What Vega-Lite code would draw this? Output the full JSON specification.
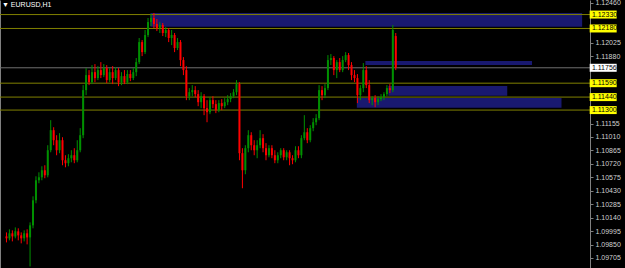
{
  "$schema": "https://vega.github.io/schema/vega-lite/v6.json",
  "width": 590,
  "height": 268,
  "autosize": {"type": "none"},
  "padding": {"left": 0, "top": 0, "right": 35, "bottom": 0},
  "background": "#000000",
  "config": {"view": {"stroke": null}, "font": "Liberation Sans"},
  "title": {"text": "▼ EURUSD,H1", "anchor": "start", "frame": "group", "orient": "top", "offset": -9, "fontSize": 7, "fontWeight": "normal", "color": "#ffffff", "font": "Liberation Sans", "dx": 2},
  "datasets": {
    "zones": [
      {"t1": 48.8, "t2": 195.2, "p1": 1.12347, "p2": 1.12199},
      {"t1": 121.7, "t2": 178.2, "p1": 1.11829, "p2": 1.11786},
      {"t1": 129.5, "t2": 169.8, "p1": 1.11560, "p2": 1.11455},
      {"t1": 118.8, "t2": 188.2, "p1": 1.11430, "p2": 1.11326}
    ],
    "levels": [
      {"p": 1.12330, "kind": "level"},
      {"p": 1.12180, "kind": "level"},
      {"p": 1.11590, "kind": "level"},
      {"p": 1.11440, "kind": "level"},
      {"p": 1.11300, "kind": "level"},
      {"p": 1.11756, "kind": "bid"}
    ],
    "candles": [
      {"t":0,"o":1.09938,"h":1.09981,"l":1.09873,"c":1.09917},
      {"t":1,"o":1.09917,"h":1.10014,"l":1.09895,"c":1.09971},
      {"t":2,"o":1.09971,"h":1.10003,"l":1.09884,"c":1.09938},
      {"t":3,"o":1.09938,"h":1.10035,"l":1.09917,"c":1.09992},
      {"t":4,"o":1.09992,"h":1.10025,"l":1.09895,"c":1.09949},
      {"t":5,"o":1.09949,"h":1.09981,"l":1.09863,"c":1.09917},
      {"t":6,"o":1.09917,"h":1.10003,"l":1.09884,"c":1.09971},
      {"t":7,"o":1.09971,"h":1.10014,"l":1.09852,"c":1.09927},
      {"t":8,"o":1.09927,"h":1.10089,"l":1.09614,"c":1.10057},
      {"t":9,"o":1.10057,"h":1.10370,"l":1.10025,"c":1.10327},
      {"t":10,"o":1.10327,"h":1.10586,"l":1.10295,"c":1.10543},
      {"t":11,"o":1.10543,"h":1.10629,"l":1.10511,"c":1.10575},
      {"t":12,"o":1.10575,"h":1.10694,"l":1.10543,"c":1.10651},
      {"t":13,"o":1.10651,"h":1.10705,"l":1.10565,"c":1.10597},
      {"t":14,"o":1.10597,"h":1.10921,"l":1.10575,"c":1.10867},
      {"t":15,"o":1.10867,"h":1.11191,"l":1.10845,"c":1.11083},
      {"t":16,"o":1.11083,"h":1.11115,"l":1.10921,"c":1.10975},
      {"t":17,"o":1.10975,"h":1.11029,"l":1.10813,"c":1.10867},
      {"t":18,"o":1.10867,"h":1.11051,"l":1.10835,"c":1.10975},
      {"t":19,"o":1.10975,"h":1.11007,"l":1.10705,"c":1.10759},
      {"t":20,"o":1.10759,"h":1.10813,"l":1.10683,"c":1.10727},
      {"t":21,"o":1.10727,"h":1.10824,"l":1.10694,"c":1.10781},
      {"t":22,"o":1.10781,"h":1.10867,"l":1.10737,"c":1.10813},
      {"t":23,"o":1.10813,"h":1.10889,"l":1.10727,"c":1.10759},
      {"t":24,"o":1.10759,"h":1.10975,"l":1.10737,"c":1.10867},
      {"t":25,"o":1.10867,"h":1.11105,"l":1.10845,"c":1.11029},
      {"t":26,"o":1.11029,"h":1.11569,"l":1.10997,"c":1.11515},
      {"t":27,"o":1.11515,"h":1.11753,"l":1.11461,"c":1.11677},
      {"t":28,"o":1.11677,"h":1.11731,"l":1.11569,"c":1.11601},
      {"t":29,"o":1.11601,"h":1.11785,"l":1.11580,"c":1.11709},
      {"t":30,"o":1.11709,"h":1.11796,"l":1.11601,"c":1.11645},
      {"t":31,"o":1.11645,"h":1.11774,"l":1.11623,"c":1.11731},
      {"t":32,"o":1.11731,"h":1.11817,"l":1.11645,"c":1.11677},
      {"t":33,"o":1.11677,"h":1.11796,"l":1.11655,"c":1.11753},
      {"t":34,"o":1.11753,"h":1.11785,"l":1.11591,"c":1.11623},
      {"t":35,"o":1.11623,"h":1.11753,"l":1.11601,"c":1.11709},
      {"t":36,"o":1.11709,"h":1.11774,"l":1.11580,"c":1.11645},
      {"t":37,"o":1.11645,"h":1.11763,"l":1.11623,"c":1.11731},
      {"t":38,"o":1.11731,"h":1.11753,"l":1.11558,"c":1.11601},
      {"t":39,"o":1.11601,"h":1.11709,"l":1.11569,"c":1.11666},
      {"t":40,"o":1.11666,"h":1.11731,"l":1.11580,"c":1.11601},
      {"t":41,"o":1.11601,"h":1.11731,"l":1.11580,"c":1.11688},
      {"t":42,"o":1.11688,"h":1.11731,"l":1.11612,"c":1.11645},
      {"t":43,"o":1.11645,"h":1.11753,"l":1.11623,"c":1.11709},
      {"t":44,"o":1.11709,"h":1.11861,"l":1.11666,"c":1.11817},
      {"t":45,"o":1.11817,"h":1.12077,"l":1.11796,"c":1.12033},
      {"t":46,"o":1.12033,"h":1.12055,"l":1.11882,"c":1.11925},
      {"t":47,"o":1.11925,"h":1.12163,"l":1.11904,"c":1.12109},
      {"t":48,"o":1.12109,"h":1.12293,"l":1.12087,"c":1.12249},
      {"t":49,"o":1.12249,"h":1.12336,"l":1.12206,"c":1.12293},
      {"t":50,"o":1.12293,"h":1.12347,"l":1.12185,"c":1.12228},
      {"t":51,"o":1.12228,"h":1.12282,"l":1.12152,"c":1.12185},
      {"t":52,"o":1.12185,"h":1.12249,"l":1.12131,"c":1.12217},
      {"t":53,"o":1.12217,"h":1.12239,"l":1.12098,"c":1.12131},
      {"t":54,"o":1.12131,"h":1.12195,"l":1.12087,"c":1.12163},
      {"t":55,"o":1.12163,"h":1.12185,"l":1.12033,"c":1.12077},
      {"t":56,"o":1.12077,"h":1.12163,"l":1.12001,"c":1.12109},
      {"t":57,"o":1.12109,"h":1.12131,"l":1.11925,"c":1.11969},
      {"t":58,"o":1.11969,"h":1.12077,"l":1.11947,"c":1.12033},
      {"t":59,"o":1.12033,"h":1.12055,"l":1.11774,"c":1.11839},
      {"t":60,"o":1.11839,"h":1.11871,"l":1.11677,"c":1.11731},
      {"t":61,"o":1.11731,"h":1.11774,"l":1.11407,"c":1.11450},
      {"t":62,"o":1.11450,"h":1.11537,"l":1.11407,"c":1.11493},
      {"t":63,"o":1.11493,"h":1.11569,"l":1.11450,"c":1.11515},
      {"t":64,"o":1.11515,"h":1.11558,"l":1.11439,"c":1.11472},
      {"t":65,"o":1.11472,"h":1.11515,"l":1.11342,"c":1.11385},
      {"t":66,"o":1.11385,"h":1.11493,"l":1.11321,"c":1.11450},
      {"t":67,"o":1.11450,"h":1.11472,"l":1.11245,"c":1.11321},
      {"t":68,"o":1.11321,"h":1.11407,"l":1.11169,"c":1.11277},
      {"t":69,"o":1.11277,"h":1.11439,"l":1.11256,"c":1.11407},
      {"t":70,"o":1.11407,"h":1.11450,"l":1.11321,"c":1.11364},
      {"t":71,"o":1.11364,"h":1.11407,"l":1.11267,"c":1.11299},
      {"t":72,"o":1.11299,"h":1.11407,"l":1.11277,"c":1.11375},
      {"t":73,"o":1.11375,"h":1.11418,"l":1.11299,"c":1.11342},
      {"t":74,"o":1.11342,"h":1.11429,"l":1.11321,"c":1.11385},
      {"t":75,"o":1.11385,"h":1.11461,"l":1.11353,"c":1.11418},
      {"t":76,"o":1.11418,"h":1.11483,"l":1.11385,"c":1.11450},
      {"t":77,"o":1.11450,"h":1.11526,"l":1.11429,"c":1.11493},
      {"t":78,"o":1.11493,"h":1.11623,"l":1.11461,"c":1.11580},
      {"t":79,"o":1.11580,"h":1.11601,"l":1.10759,"c":1.10835},
      {"t":80,"o":1.10835,"h":1.10889,"l":1.10457,"c":1.10651},
      {"t":81,"o":1.10651,"h":1.10921,"l":1.10608,"c":1.10889},
      {"t":82,"o":1.10889,"h":1.11083,"l":1.10845,"c":1.11029},
      {"t":83,"o":1.11029,"h":1.11061,"l":1.10867,"c":1.10921},
      {"t":84,"o":1.10921,"h":1.10975,"l":1.10813,"c":1.10867},
      {"t":85,"o":1.10867,"h":1.10975,"l":1.10781,"c":1.10921},
      {"t":86,"o":1.10921,"h":1.11083,"l":1.10889,"c":1.10997},
      {"t":87,"o":1.10997,"h":1.11040,"l":1.10845,"c":1.10889},
      {"t":88,"o":1.10889,"h":1.10943,"l":1.10759,"c":1.10813},
      {"t":89,"o":1.10813,"h":1.10921,"l":1.10791,"c":1.10889},
      {"t":90,"o":1.10889,"h":1.10921,"l":1.10781,"c":1.10813},
      {"t":91,"o":1.10813,"h":1.10867,"l":1.10727,"c":1.10759},
      {"t":92,"o":1.10759,"h":1.10845,"l":1.10727,"c":1.10813},
      {"t":93,"o":1.10813,"h":1.10889,"l":1.10781,"c":1.10867},
      {"t":94,"o":1.10867,"h":1.10889,"l":1.10759,"c":1.10791},
      {"t":95,"o":1.10791,"h":1.10867,"l":1.10759,"c":1.10845},
      {"t":96,"o":1.10845,"h":1.10867,"l":1.10705,"c":1.10781},
      {"t":97,"o":1.10781,"h":1.10813,"l":1.10716,"c":1.10759},
      {"t":98,"o":1.10759,"h":1.10910,"l":1.10737,"c":1.10867},
      {"t":99,"o":1.10867,"h":1.10910,"l":1.10781,"c":1.10813},
      {"t":100,"o":1.10813,"h":1.11029,"l":1.10781,"c":1.10997},
      {"t":101,"o":1.10997,"h":1.11245,"l":1.10975,"c":1.11061},
      {"t":102,"o":1.11061,"h":1.11105,"l":1.10943,"c":1.10975},
      {"t":103,"o":1.10975,"h":1.11137,"l":1.10953,"c":1.11105},
      {"t":104,"o":1.11105,"h":1.11213,"l":1.11072,"c":1.11169},
      {"t":105,"o":1.11169,"h":1.11256,"l":1.11137,"c":1.11213},
      {"t":106,"o":1.11213,"h":1.11569,"l":1.11191,"c":1.11515},
      {"t":107,"o":1.11515,"h":1.11558,"l":1.11407,"c":1.11461},
      {"t":108,"o":1.11461,"h":1.11580,"l":1.11429,"c":1.11537},
      {"t":109,"o":1.11537,"h":1.11893,"l":1.11515,"c":1.11839},
      {"t":110,"o":1.11839,"h":1.11904,"l":1.11785,"c":1.11861},
      {"t":111,"o":1.11861,"h":1.11882,"l":1.11677,"c":1.11731},
      {"t":112,"o":1.11731,"h":1.11839,"l":1.11645,"c":1.11817},
      {"t":113,"o":1.11817,"h":1.11861,"l":1.11709,"c":1.11731},
      {"t":114,"o":1.11731,"h":1.11882,"l":1.11709,"c":1.11839},
      {"t":115,"o":1.11839,"h":1.11925,"l":1.11817,"c":1.11893},
      {"t":116,"o":1.11893,"h":1.11915,"l":1.11731,"c":1.11785},
      {"t":117,"o":1.11785,"h":1.11817,"l":1.11623,"c":1.11677},
      {"t":118,"o":1.11677,"h":1.11731,"l":1.11601,"c":1.11645},
      {"t":119,"o":1.11645,"h":1.11688,"l":1.11375,"c":1.11461},
      {"t":120,"o":1.11461,"h":1.11569,"l":1.11407,"c":1.11537},
      {"t":121,"o":1.11537,"h":1.11807,"l":1.11493,"c":1.11731},
      {"t":122,"o":1.11731,"h":1.11774,"l":1.11537,"c":1.11569},
      {"t":123,"o":1.11569,"h":1.11623,"l":1.11375,"c":1.11407},
      {"t":124,"o":1.11407,"h":1.11450,"l":1.11353,"c":1.11429},
      {"t":125,"o":1.11429,"h":1.11461,"l":1.11331,"c":1.11385},
      {"t":126,"o":1.11385,"h":1.11450,"l":1.11353,"c":1.11418},
      {"t":127,"o":1.11418,"h":1.11472,"l":1.11396,"c":1.11439},
      {"t":128,"o":1.11439,"h":1.11493,"l":1.11407,"c":1.11472},
      {"t":129,"o":1.11472,"h":1.11569,"l":1.11450,"c":1.11537},
      {"t":130,"o":1.11537,"h":1.11580,"l":1.11483,"c":1.11515},
      {"t":131,"o":1.11515,"h":1.12217,"l":1.11493,"c":1.12163},
      {"t":132,"o":1.12098,"h":1.12131,"l":1.11731,"c":1.11756}
    ]
  },
  "layer": [
    {
      "data": {"name": "zones"},
      "mark": {"type": "rect", "color": "#191970"},
      "encoding": {
        "x": {"field": "t1", "type": "quantitative", "scale": {"domain": [-0.5, 196.1667], "nice": false, "zero": false}, "axis": null},
        "x2": {"field": "t2"},
        "y": {"field": "p1", "type": "quantitative", "scale": {"domain": [1.09597, 1.12487], "nice": false, "zero": false},
              "axis": {"orient": "left", "labels": false, "ticks": false, "domain": true, "domainColor": "#808080", "title": null, "grid": false}},
        "y2": {"field": "p2"}
      }
    },
    {
      "data": {"name": "levels"},
      "transform": [{"filter": "datum.kind == 'level'"}],
      "mark": {"type": "rule", "color": "#808000", "strokeWidth": 1},
      "encoding": {
        "y": {"field": "p", "type": "quantitative", "scale": {"domain": [1.09597, 1.12487], "nice": false, "zero": false}, "axis": null}
      }
    },
    {
      "data": {"name": "levels"},
      "transform": [{"filter": "datum.kind == 'bid'"}],
      "mark": {"type": "rule", "color": "#707070", "strokeWidth": 1},
      "encoding": {
        "y": {"field": "p", "type": "quantitative", "scale": {"domain": [1.09597, 1.12487], "nice": false, "zero": false}, "axis": null}
      }
    },
    {
      "data": {"name": "candles"},
      "mark": {"type": "rule", "strokeWidth": 1},
      "encoding": {
        "x": {"field": "t", "type": "quantitative", "scale": {"domain": [-0.5, 196.1667], "nice": false, "zero": false}, "axis": null},
        "y": {"field": "l", "type": "quantitative", "scale": {"domain": [1.09597, 1.12487], "nice": false, "zero": false}, "axis": null},
        "y2": {"field": "h"},
        "color": {"condition": {"test": "datum.c >= datum.o", "value": "#009000"}, "value": "#ff0000"}
      }
    },
    {
      "data": {"name": "candles"},
      "mark": {"type": "bar", "width": 2},
      "encoding": {
        "x": {"field": "t", "type": "quantitative", "scale": {"domain": [-0.5, 196.1667], "nice": false, "zero": false}, "axis": null},
        "y": {"field": "o", "type": "quantitative", "scale": {"domain": [1.09597, 1.12487], "nice": false, "zero": false},
              "axis": {"orient": "right", "values": [1.09705, 1.0985, 1.09995, 1.1014, 1.10285, 1.1043, 1.10575, 1.1072, 1.10865, 1.1101, 1.11155, 1.1188, 1.12025, 1.1246],
                       "format": ".5f", "labelColor": "#d0d0d0", "labelFontSize": 7, "labelFont": "Liberation Sans", "tickColor": "#808080", "tickSize": 3, "domainColor": "#808080", "labelPadding": 2, "grid": false, "title": null, "labelOverlap": false, "labelBound": false, "labelFlush": false}},
        "y2": {"field": "c"},
        "color": {"condition": {"test": "datum.c >= datum.o", "value": "#009000"}, "value": "#ff0000"}
      }
    },
    {
      "data": {"name": "levels"},
      "mark": {"type": "tick", "orient": "horizontal", "size": 27, "thickness": 8, "opacity": 1},
      "encoding": {
        "x": {"datum": 202.33, "type": "quantitative", "scale": {"domain": [-0.5, 196.1667], "nice": false, "zero": false}, "axis": null},
        "y": {"field": "p", "type": "quantitative", "scale": {"domain": [1.09597, 1.12487], "nice": false, "zero": false}, "axis": null},
        "color": {"condition": {"test": "datum.kind == 'bid'", "value": "#ffffff"}, "value": "#ffff00"}
      }
    },
    {
      "data": {"name": "levels"},
      "mark": {"type": "text", "align": "left", "baseline": "middle", "fontSize": 7, "font": "Liberation Sans", "color": "#000000"},
      "encoding": {
        "x": {"datum": 198.5, "type": "quantitative", "scale": {"domain": [-0.5, 196.1667], "nice": false, "zero": false}, "axis": null},
        "y": {"field": "p", "type": "quantitative", "scale": {"domain": [1.09597, 1.12487], "nice": false, "zero": false}, "axis": null},
        "text": {"field": "p", "type": "quantitative", "format": ".5f"}
      }
    }
  ],
  "resolve": {"axis": {"y": "independent"}}
}
